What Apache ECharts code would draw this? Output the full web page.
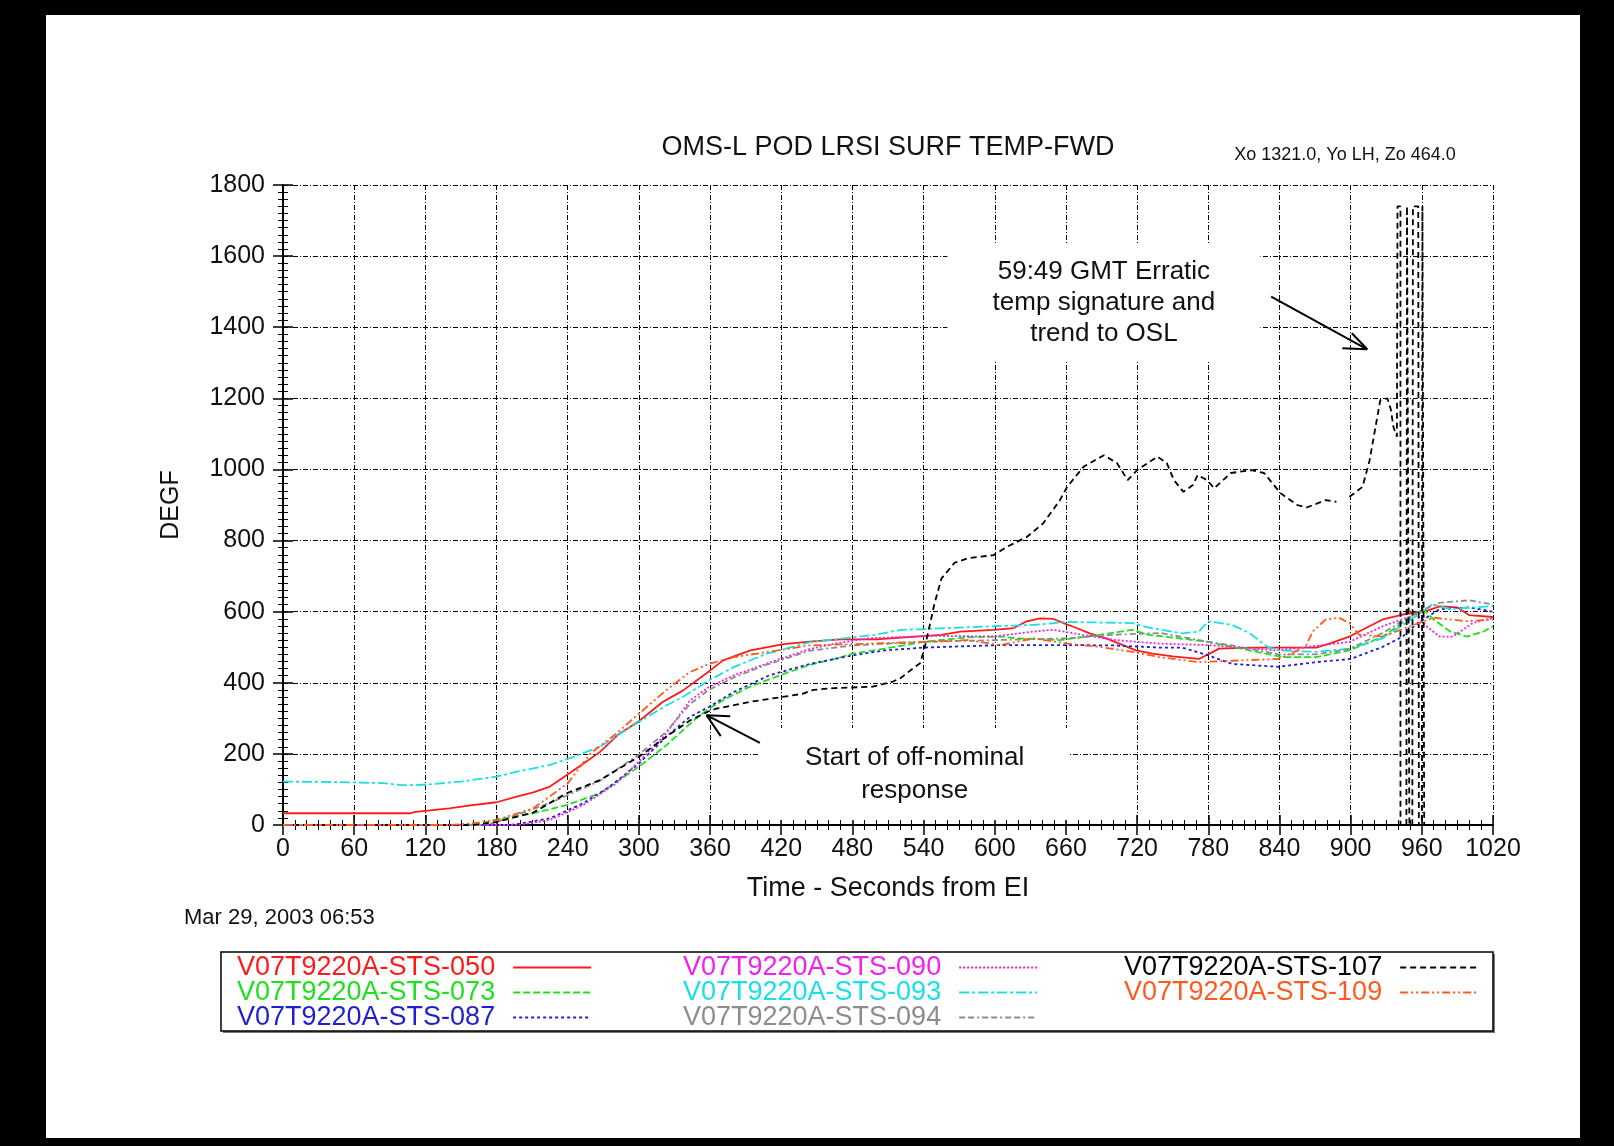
<!DOCTYPE html>
<html>
<head>
<meta charset="utf-8">
<script src="https://cdn.jsdelivr.net/npm/echarts@6/dist/echarts.min.js"></script>
<style>
html,body{margin:0;padding:0;background:#000;width:1614px;height:1146px;overflow:hidden;}
#page{position:absolute;left:46px;top:15px;width:1534px;height:1123px;background:#fff;}
#chart{position:absolute;left:0;top:0;width:1614px;height:1146px;}
</style>
</head>
<body>
<div id="page"></div>
<div id="chart"></div>
<script>
// ---- data (x = seconds from EI, y = DEGF) ----
const xTicks = [0,60,120,180,240,300,360,420,480,540,600,660,720,780,840,900,960,1020];
const yTicks = [0,200,400,600,800,1000,1200,1400,1600,1800];

const names = ['V07T9220A-STS-050','V07T9220A-STS-073','V07T9220A-STS-087','V07T9220A-STS-090',
               'V07T9220A-STS-093','V07T9220A-STS-094','V07T9220A-STS-107','V07T9220A-STS-109'];

const s050 = [[0,33],[108,33],[110,36],[140,47],[158,55],[180,64],[197,80],[211,92],[225,108],[239,140],[253,172],[267,205],[282,253],[300,292],[320,346],[337,378],[359,432],[371,463],[394,491],[422,509],[444,516],[470,522],[500,522],[521,527],[555,535],[571,544],[599,549],[616,554],[627,573],[638,581],[649,580],[658,568],[669,554],[680,539],[694,525],[708,506],[719,491],[733,482],[750,474],[772,467],[784,487],[789,496],[815,499],[871,499],[882,510],[899,530],[910,549],[927,578],[944,592],[964,602],[975,615],[990,612],[1000,590],[1020,585]];
const s073 = [[0,0],[150,0],[165,3],[180,15],[211,33],[239,56],[267,89],[300,164],[323,224],[348,299],[359,327],[373,355],[393,388],[422,425],[444,450],[465,467],[480,482],[507,496],[540,515],[577,528],[605,530],[619,525],[655,520],[688,535],[716,549],[730,535],[780,515],[815,491],[843,472],[871,472],[899,491],[927,530],[950,583],[961,607],[970,578],[984,544],[998,530],[1012,544],[1020,559]];
const s087 = [[0,0],[190,0],[197,2],[225,19],[253,61],[275,107],[300,173],[323,248],[343,304],[359,332],[380,374],[410,421],[444,453],[480,477],[507,491],[540,499],[605,506],[661,506],[700,505],[739,499],[758,499],[780,477],[800,453],[839,445],[871,458],[900,467],[927,501],[944,530],[955,564],[975,607],[1000,612],[1020,600]];
const s090 = [[0,0],[190,0],[200,1],[225,14],[253,56],[281,117],[300,178],[323,257],[343,350],[359,388],[380,421],[407,453],[444,495],[465,510],[493,525],[548,532],[599,530],[633,544],[649,549],[674,535],[702,520],[739,510],[780,506],[839,491],[899,515],[927,559],[955,592],[964,559],[975,530],[986,530],[1003,568],[1020,583]];
const s093 = [[0,122],[40,121],[84,118],[100,112],[112,112],[125,115],[150,122],[169,131],[180,136],[197,150],[225,169],[242,188],[267,220],[300,290],[323,336],[337,360],[359,407],[380,444],[407,481],[444,514],[499,535],[521,549],[540,551],[599,559],[633,563],[661,571],[716,568],[730,555],[758,539],[772,544],[780,573],[800,563],[815,539],[830,501],[839,491],[871,487],[899,496],[927,525],[955,587],[969,621],[984,607],[1020,616]];
const s094 = [[0,0],[170,0],[180,8],[225,62],[267,124],[300,198],[323,262],[343,340],[359,380],[380,415],[407,450],[444,490],[480,505],[540,515],[600,520],[660,525],[700,535],[740,540],[780,515],[800,505],[839,480],[871,480],[899,495],[927,540],[955,597],[975,625],[1000,632],[1020,620]];
const s107 = [[0,0],[160,0],[180,9],[211,35],[239,89],[267,126],[300,192],[323,248],[343,294],[359,320],[365,327],[393,346],[403,351],[438,369],[447,380],[465,385],[497,389],[514,403],[521,414],[532,443],[537,455],[541,500],[545,559],[549,620],[555,693],[566,737],[577,750],[599,759],[610,782],[627,810],[641,849],[655,914],[661,951],[675,1008],[692,1040],[703,1018],[712,970],[720,998],[737,1036],[745,1018],[751,970],[759,937],[767,956],[771,984],[779,970],[785,947],[799,990],[816,998],[827,990],[841,933],[855,900],[863,893],[879,914],[888,909],[893,null],[899,923],[910,951],[916,1026],[922,1139],[925,1195],[931,1200],[934,1167],[936,1120],[939,1092],[939.5,1740],[942,1740],[942,0],[947,0],[947.5,1740],[949,1740],[949.5,0],[952,0],[952.5,1740],[957,1740],[957.5,0],[960,0],[960.5,1740],[962,1740],[962,0]];
const s109 = [[0,0],[141,0],[160,5],[180,14],[211,47],[240,117],[259,201],[281,257],[300,313],[323,379],[343,430],[359,453],[380,472],[407,486],[444,505],[493,510],[540,515],[577,520],[605,506],[633,525],[661,510],[688,501],[716,487],[739,472],[772,458],[800,462],[839,467],[862,501],[868,544],[879,578],[890,583],[899,568],[907,535],[927,530],[950,559],[970,583],[998,573],[1020,578]];

// annotation boxes and arrows (data coordinates)
const note1 = {text:'Start of off-nominal\nresponse', box:[[402,14],[663,273]]};
const note2 = {text:'59:49 GMT Erratic\ntemp signature and\ntrend to OSL', box:[[560,1302],[824,1637]]};
const arrow1 = [[402,231],[357,309],[377,306],[369,250]];
const arrow2 = [[833,1486],[914,1338],[893,1341],[901,1383]];

const colors = ['#ff1a1a','#1fe01f','#1f1fd0','#f020f0','#18e0e8','#8c8c8c','#000000','#ff5a1e'];
const dashes = ['solid',[7,3],[3,3],[2,2],[10,3,3,3],[6,3,6,3,2,3],[6,4],[8,3,2,3,2,3]];
const seriesData = [s050,s073,s087,s090,s093,s094,s107,s109];

const FONT = '"Liberation Sans", Arial, Helvetica, sans-serif';
const chart = echarts.init(document.getElementById('chart'));

function arrowLines(a){
  return [[{coord:a[0]},{coord:a[1]}],[{coord:a[1]},{coord:a[2]}],[{coord:a[1]},{coord:a[3]}]];
}

const series = [{
  name:'notes', type:'line', data:[], silent:true, z:1,
  markArea:{silent:true,
    itemStyle:{color:'#ffffff'},
    label:{show:true, position:'inside', color:'#111', fontSize:26, fontFamily:FONT},
    data:[
      [{coord:note1.box[0], name:note1.text, label:{lineHeight:33}},{coord:note1.box[1]}],
      [{coord:note2.box[0], name:note2.text, label:{lineHeight:31}},{coord:note2.box[1]}]
    ]},
  markLine:{silent:true, symbol:['none','none'], label:{show:false},
    lineStyle:{color:'#000', width:2, type:'solid'},
    data:[].concat(arrowLines(arrow1), arrowLines(arrow2))}
}];
seriesData.forEach((d,i)=>{
  series.push({name:names[i], type:'line', data:d, showSymbol:false, symbol:'none',
    connectNulls:false, z:3+i,
    lineStyle:{color:colors[i], width:1.8, type:dashes[i]},
    itemStyle:{color:colors[i]}});
});

const gridLine = {show:true, lineStyle:{color:'#000', width:1, type:[5,2,1,2]}};
function legendFor(idx,left){
  return {orient:'vertical', left:left, top:954, align:'right', padding:0,
    itemWidth:78, itemHeight:14, itemGap:-2, selectedMode:false,
    itemStyle:{opacity:0},
    textStyle:{fontSize:27, fontFamily:FONT, padding:[0,13,0,0]},
    data: idx.map(i=>({name:names[i], textStyle:{color:colors[i]}}))};
}
const plain = v => String(v);

chart.setOption({
  animation:false,
  backgroundColor:'transparent',
  grid:{left:283, right:121, top:185, bottom:321},
  xAxis:[{type:'value', min:xTicks[0], max:xTicks[xTicks.length-1], interval:60, position:'bottom',
    axisLine:{lineStyle:{color:'#000', width:2}},
    axisTick:{inside:true, length:10, lineStyle:{color:'#000', width:1.5}},
    minorTick:{show:true, splitNumber:6, length:5, lineStyle:{color:'#000', width:1}},
    splitLine:gridLine,
    axisLabel:{fontSize:25, color:'#111', margin:12, fontFamily:FONT, formatter:plain},
    name:'Time - Seconds from EI', nameLocation:'middle', nameGap:50,
    nameTextStyle:{fontSize:27, color:'#111', fontFamily:FONT}},
   {type:'value', min:xTicks[0], max:xTicks[xTicks.length-1], interval:60, position:'top',
    axisLine:{lineStyle:{color:'#000', width:2}},
    axisTick:{inside:true, length:10, lineStyle:{color:'#000', width:1.5}},
    minorTick:{show:true, splitNumber:6, length:5, lineStyle:{color:'#000', width:1}},
    splitLine:{show:false}, axisLabel:{show:false}}],
  yAxis:[{type:'value', min:yTicks[0], max:yTicks[yTicks.length-1], interval:200, position:'left',
    axisLine:{show:true, lineStyle:{color:'#000', width:2}},
    axisTick:{show:true, inside:true, length:10, lineStyle:{color:'#000', width:1.5}},
    minorTick:{show:true, splitNumber:10, length:5, lineStyle:{color:'#000', width:1}},
    splitLine:gridLine,
    axisLabel:{fontSize:25, color:'#111', margin:18, fontFamily:FONT, formatter:plain},
    name:'DEGF', nameLocation:'middle', nameGap:99,
    nameTextStyle:{fontSize:25, color:'#111', fontFamily:FONT}},
   {type:'value', min:yTicks[0], max:yTicks[yTicks.length-1], interval:200, position:'right',
    axisLine:{show:true, lineStyle:{color:'#000', width:2}},
    axisTick:{show:true, inside:true, length:10, lineStyle:{color:'#000', width:1.5}},
    minorTick:{show:true, splitNumber:10, length:5, lineStyle:{color:'#000', width:1}},
    splitLine:{show:false}, axisLabel:{show:false}}],
  legend:[legendFor([0,1,2],237), legendFor([3,4,5],683), legendFor([6,7],1124)],
  graphic:[
    {type:'rect', z:-2, shape:{x:223, y:954, width:1272, height:79}, style:{fill:'#777'}},
    {type:'rect', z:-1, shape:{x:221, y:952, width:1272, height:79}, style:{fill:'#fff', stroke:'#000', lineWidth:1.5}},
    {type:'text', x:888, y:148, style:{text:'OMS-L POD LRSI SURF TEMP-FWD', font:'27px '+FONT, fill:'#111', align:'center', verticalAlign:'middle'}},
    {type:'text', x:1345, y:155, style:{text:'Xo 1321.0, Yo LH, Zo 464.0', font:'18px '+FONT, fill:'#111', align:'center', verticalAlign:'middle'}},
    {type:'text', x:184, y:918, style:{text:'Mar 29, 2003 06:53', font:'22px '+FONT, fill:'#111', align:'left', verticalAlign:'middle'}}
  ],
  series:series
});
</script>
</body>
</html>
